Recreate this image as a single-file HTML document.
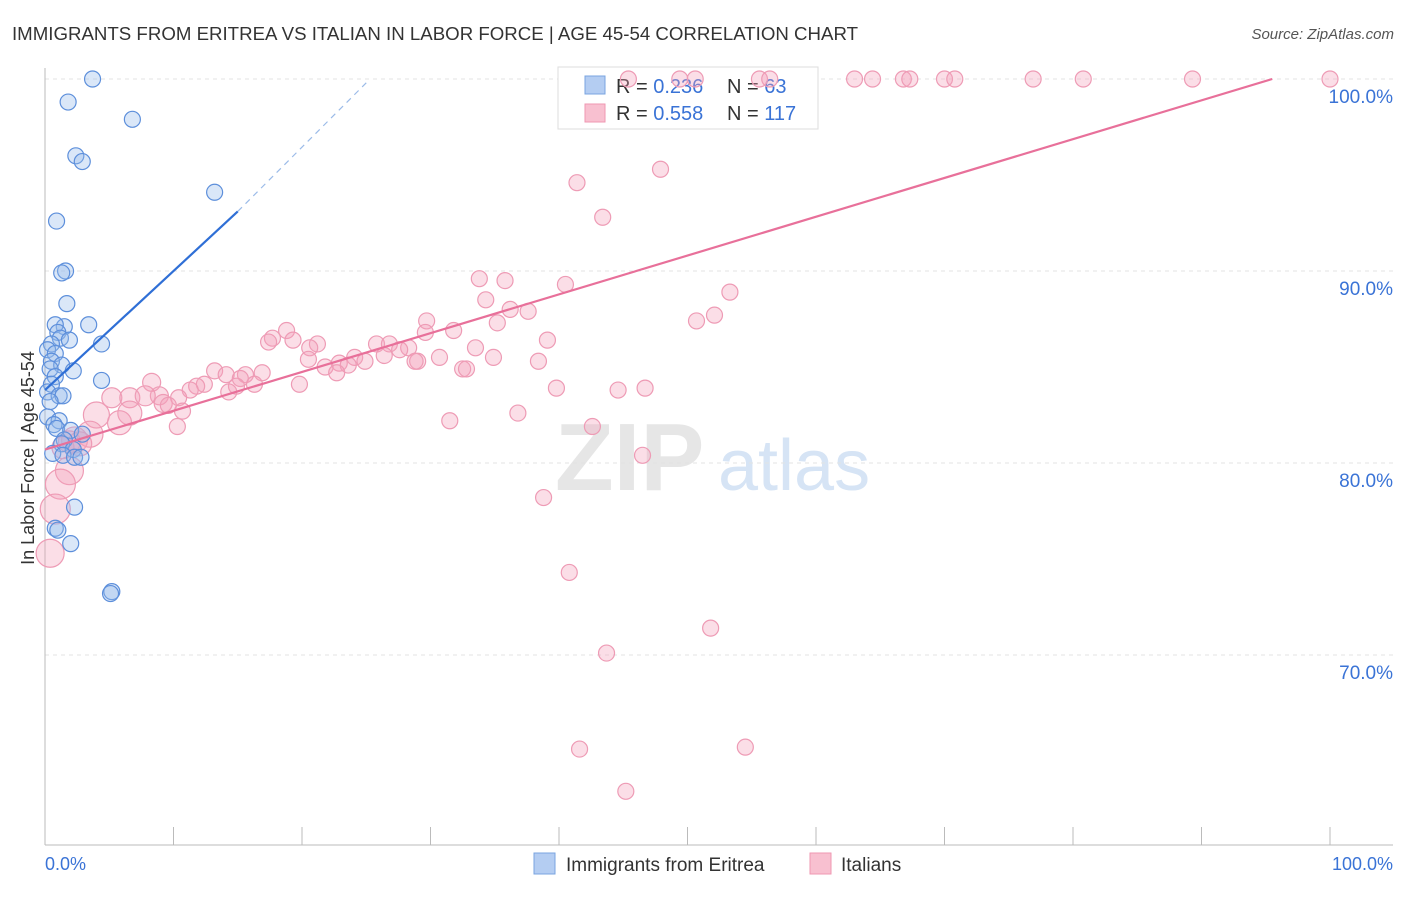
<!DOCTYPE html>
<html><head><meta charset="utf-8"><style>
body{margin:0;background:#fff;font-family:"Liberation Sans",sans-serif}
svg text{font-family:"Liberation Sans",sans-serif}
</style></head><body>
<svg id="c" width="1406" height="892" viewBox="0 0 1406 892">
<text x="12" y="40" font-size="18" fill="#333" textLength="846" lengthAdjust="spacingAndGlyphs">IMMIGRANTS FROM ERITREA VS ITALIAN IN LABOR FORCE | AGE 45-54 CORRELATION CHART</text>
<text x="1394" y="39" font-size="15" fill="#555" text-anchor="end" font-style="italic">Source: ZipAtlas.com</text>
<g>
<text x="555" y="490" font-size="96" fill="#e6e6e6" font-family="Liberation Serif" font-weight="bold">ZIP</text>
<text x="718" y="490" font-size="72" fill="#d6e4f5">atlas</text>
</g>
<g id="grid"></g>
<g>
<rect x="558" y="67" width="260" height="62" fill="#fff" stroke="#ddd"/>
<rect x="585" y="76" width="20" height="18" fill="#b4cdf2" stroke="#7aa4e0"/>
<rect x="585" y="104" width="20" height="18" fill="#f8c0d0" stroke="#ef97b2"/>
<text x="616" y="93" font-size="20" fill="#333">R = <tspan fill="#3a73d6">0.236</tspan></text>
<text x="727" y="93" font-size="20" fill="#333">N = <tspan fill="#3a73d6">63</tspan></text>
<text x="616" y="120" font-size="20" fill="#333">R = <tspan fill="#3a73d6">0.558</tspan></text>
<text x="727" y="120" font-size="20" fill="#333">N = <tspan fill="#3a73d6">117</tspan></text>
</g>
<g id="marks"></g>
<text transform="translate(34,458) rotate(-90)" font-size="18" fill="#333" text-anchor="middle">In Labor Force | Age 45-54</text>
<g>
<rect x="534" y="853" width="21" height="21" fill="#b4cdf2" stroke="#7aa4e0"/>
<text x="566" y="871" font-size="19" fill="#333">Immigrants from Eritrea</text>
<rect x="810" y="853" width="21" height="21" fill="#f8c0d0" stroke="#ef97b2"/>
<text x="841" y="871" font-size="19" fill="#333">Italians</text>
</g>
<text x="45" y="870" font-size="18" fill="#3a73d6">0.0%</text>
<text x="1393" y="870" font-size="18" fill="#3a73d6" text-anchor="end">100.0%</text>
</svg>
<script>
const yTicks=[100,90,80,70];
const yTickLabels=["100.0%","90.0%","80.0%","70.0%"];
const blueX=[3.7,1.8,6.8,2.4,2.9,13.2,0.9,1.6,1.3,1.7,3.4,1.5,0.8,1.0,1.2,1.9,4.4,0.5,0.2,0.8,0.5,1.3,2.2,0.4,0.8,4.4,0.5,0.2,1.1,1.4,0.4,0.2,1.1,0.7,0.9,2.0,2.9,1.5,1.3,2.2,0.6,1.4,2.3,2.8,2.3,0.8,1.0,2.0,5.2,5.1];
const blueY=[100,98.8,97.9,96.0,95.7,94.1,92.6,90.0,89.9,88.3,87.2,87.1,87.2,86.8,86.5,86.4,86.2,86.2,85.9,85.7,85.3,85.1,84.8,84.9,84.5,84.3,84.1,83.7,83.5,83.5,83.2,82.4,82.2,82.0,81.8,81.7,81.5,81.2,81.0,80.7,80.5,80.4,80.3,80.3,77.7,76.6,76.5,75.8,73.3,73.2];
const pinkX=[45.4,49.4,50.6,55.6,56.4,63.0,64.4,66.8,67.3,70.0,70.8,76.9,80.8,89.3,100,47.9,41.4,43.4,33.8,35.8,40.5,34.3,53.3,36.2,37.6,52.1,50.7,35.2,29.7,18.8,17.7,19.3,17.4,21.2,20.6,39.1,33.5,29.6,31.8,34.9,30.7,25.8,26.8,28.3,27.6,24.1,24.9,22.9,21.8,23.6,20.5,29.0,26.4,38.4,32.5,32.8,28.8,22.7,13.2,15.6,14.1,16.9,15.2,16.3,14.9,12.4,11.8,11.3,8.3,19.8,39.8,44.6,46.7,14.3,8.9,5.2,6.6,7.8,9.2,10.4,9.6,10.7,6.6,4.0,31.5,36.8,10.3,5.8,3.5,2.3,1.9,2.7,1.4,42.6,46.5,1.9,38.8,1.2,0.8,0.4,40.8,51.8,43.7,41.6,54.5,45.2];
const pinkY=[100,100,100,100,100,100,100,100,100,100,100,100,100,100,100,95.3,94.6,92.8,89.6,89.5,89.3,88.5,88.9,88.0,87.9,87.7,87.4,87.3,87.4,86.9,86.5,86.4,86.3,86.2,86.0,86.4,86.0,86.8,86.9,85.5,85.5,86.2,86.2,86.0,85.9,85.5,85.3,85.2,85.0,85.1,85.4,85.3,85.6,85.3,84.9,84.9,85.3,84.7,84.8,84.6,84.6,84.7,84.4,84.1,84.0,84.1,84.0,83.8,84.2,84.1,83.9,83.8,83.9,83.7,83.5,83.4,83.4,83.5,83.1,83.4,83.0,82.7,82.6,82.5,82.2,82.6,81.9,82.1,81.5,81.2,81.1,81.0,80.8,81.9,80.4,79.6,78.2,78.9,77.6,75.3,74.3,71.4,70.1,65.1,65.2,62.9];
const pinkR=[8,8,8,8,8,8,8,8,8,8,8,8,8,8,8,8,8,8,8,8,8,8,8,8,8,8,8,8,8,8,8,8,8,8,8,8,8,8,8,8,8,8,8,8,8,8,8,8,8,8,8,8,8,8,8,8,8,8,8,8,8,8,8,8,8,8,8,8,9,8,8,8,8,8,9,10,10,10,9,8,8,8,12,13,8,8,8,12,13,13,11,12,11,8,8,14,8,15,15,14,8,8,8,8,8,8];
const blueTrend=[[0,83.8],[15,93.1]];
const blueDash=[[15,93.1],[25,99.8]];
const pinkTrend=[[0,80.7],[95.5,100]];
const sx=v=>45+v*12.85, sy=v=>79+(100-v)*19.2;
const NS="http://www.w3.org/2000/svg";
const grid=document.getElementById('grid'), marks=document.getElementById('marks');
function mk(tag,attrs,parent){const e=document.createElementNS(NS,tag);for(const k in attrs)e.setAttribute(k,attrs[k]);parent.appendChild(e);return e;}
yTicks.forEach((t,i)=>{
 const l=mk('line',{x1:45,x2:1393,y1:sy(t),y2:sy(t),stroke:'#e3e3e3','stroke-dasharray':'4,4'},grid);
 
 
 const tx=mk('text',{x:1393,y:sy(t)+24,'font-size':19,fill:'#3a73d6','text-anchor':'end'},grid);
 tx.textContent=yTickLabels[i];
 
 
});
mk('line',{x1:45,x2:45,y1:68,y2:845,stroke:'#bbb'},grid);
mk('line',{x1:45,x2:1393,y1:845,y2:845,stroke:'#bbb'},grid);
for(let i=0;i<=10;i++){const x=sx(i*10);const t=mk('line',{x1:x,x2:x,y1:827,y2:845,stroke:'#bbb'},grid);
 
 }
pinkX.forEach((x,i)=>{const c=mk('circle',{cx:sx(x),cy:sy(pinkY[i]),r:pinkR[i],fill:'rgba(244,160,186,0.35)',stroke:'#ee9bb5','stroke-width':1.2},marks);
 
 });
blueX.forEach((x,i)=>{const c=mk('circle',{cx:sx(x),cy:sy(blueY[i]),r:8,fill:'rgba(150,185,235,0.35)',stroke:'#5d8fdb','stroke-width':1.2},marks);
 
 });
const bl=mk('line',{x1:sx(blueTrend[0][0]),y1:sy(blueTrend[0][1]),x2:sx(blueTrend[1][0]),y2:sy(blueTrend[1][1]),stroke:'#2f6fd6','stroke-width':2.2},marks);


const bd=mk('line',{x1:sx(blueDash[0][0]),y1:sy(blueDash[0][1]),x2:sx(blueDash[1][0]),y2:sy(blueDash[1][1]),stroke:'#9bbbe8','stroke-width':1.2,'stroke-dasharray':'6,5'},marks);


const pl=mk('line',{x1:sx(pinkTrend[0][0]),y1:sy(pinkTrend[0][1]),x2:sx(pinkTrend[1][0]),y2:sy(pinkTrend[1][1]),stroke:'#e8709a','stroke-width':2.2},marks);


</script>
</body></html>
